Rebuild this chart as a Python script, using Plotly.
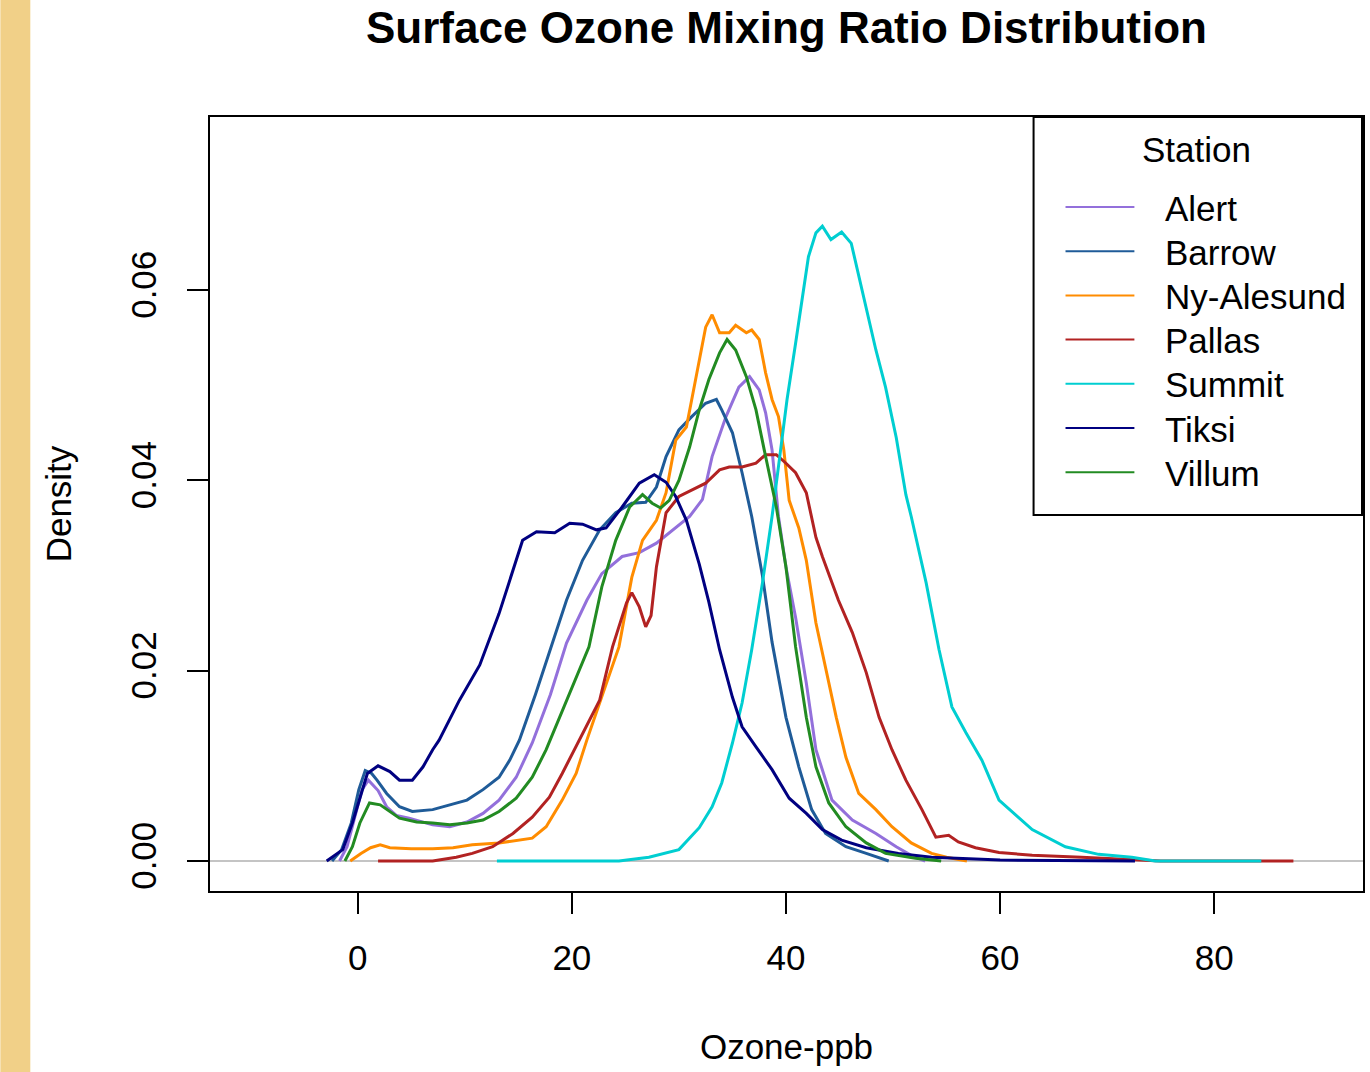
import plotly.graph_objects as go

# ---------------- data ----------------
stations = ["Alert", "Barrow", "Ny-Alesund", "Pallas", "Summit", "Tiksi", "Villum"]
colors = ["#9370DB", "#1F5B98", "#FF8C00", "#B22222", "#00CED1", "#000080", "#228B22"]

alert_x = [-1.7, -1.0, -0.3, 0.4, 1.0, 1.9, 2.7, 3.6, 4.8, 7.0,
           8.6, 10.2, 11.7, 13.2, 14.8, 16.3, 18.0, 19.5, 21.4, 22.8,
           24.7, 26.3, 27.9, 29.4, 31.0, 32.2, 33.1, 34.4, 35.6, 36.6,
           37.5, 38.1, 38.7, 39.3, 40.0, 40.9, 41.9, 42.8, 44.3, 46.2,
           48.4, 50.3, 51.7, 53.0]
alert_d = [0, 0.0015, 0.0045, 0.0075, 0.0085, 0.0074, 0.0057, 0.0048, 0.0045, 0.0038,
           0.0036, 0.0041, 0.005, 0.0064, 0.0088, 0.0124, 0.0175, 0.0229, 0.0274, 0.0302,
           0.032, 0.0324, 0.0334, 0.0348, 0.0362, 0.038, 0.0425, 0.0467, 0.0498, 0.0509,
           0.0495, 0.0471, 0.0432, 0.0362, 0.0309, 0.0256, 0.0187, 0.0117, 0.0064, 0.0043,
           0.0029, 0.0015, 0.0006, 0]

barrow_x = [-2.4, -1.5, -0.6, 0.1, 0.7, 1.3, 1.8, 2.7, 3.9, 5.1,
            7.0, 8.6, 10.2, 11.7, 13.2, 14.2, 15.1, 16.6, 18.1, 19.5,
            21.0, 22.6, 24.1, 25.6, 26.9, 27.9, 28.8, 30.0, 31.2, 32.5,
            33.5, 34.0, 35.0, 35.9, 36.8, 37.8, 38.7, 40.0, 41.2, 42.4,
            43.7, 45.6, 47.5, 49.6]
barrow_d = [0, 0.0012, 0.004, 0.0075, 0.0095, 0.0092, 0.0085, 0.0071, 0.0057, 0.0052,
            0.0054, 0.0059, 0.0064, 0.0075, 0.0088, 0.0106, 0.0127, 0.0175, 0.0225, 0.0274,
            0.0316, 0.0348, 0.0366, 0.0376, 0.0377, 0.0393, 0.0425, 0.0453, 0.0467, 0.0481,
            0.0485, 0.0474, 0.045, 0.0408, 0.0362, 0.030, 0.023, 0.0151, 0.0099, 0.0054,
            0.0029, 0.0015, 0.0008, 0]

nyalesund_x = [-0.7, 0.3, 1.2, 2.1, 3.0, 5.0, 7.0, 8.9, 10.7, 13.2,
               16.3, 17.6, 19.1, 20.4, 21.4, 22.9, 24.4, 25.6, 26.6, 27.9,
               28.8, 29.7, 30.7, 31.2, 31.9, 32.5, 33.1, 33.8, 34.7, 35.3,
               36.3, 36.8, 37.5, 38.1, 38.7, 39.3, 39.8, 40.3, 41.2, 41.9,
               42.8, 43.7, 44.7, 45.6, 46.8, 48.4, 49.9, 51.7, 53.6, 55.0,
               56.9]
nyalesund_d = [0, 0.0008, 0.0014, 0.0017, 0.0014, 0.0013, 0.0013, 0.0014, 0.0017, 0.0019,
               0.0024, 0.0036, 0.0064, 0.0092, 0.0127, 0.0175, 0.0225, 0.0298, 0.0337, 0.0358,
               0.0387, 0.0442, 0.0456, 0.0485, 0.0527, 0.0561, 0.0574, 0.0555, 0.0555, 0.0563,
               0.0555, 0.0558, 0.0548, 0.0513, 0.0485, 0.0467, 0.0432, 0.0379, 0.035, 0.0316,
               0.025, 0.0204, 0.0151, 0.0109, 0.0071, 0.0054, 0.0036, 0.0019, 0.0008, 0.0004,
               0]

pallas_x = [1.9, 7.0, 9.2, 10.7, 12.6, 14.5, 16.3, 17.9, 19.1, 20.4,
            22.6, 23.8, 25.1, 25.6, 26.3, 26.9, 27.4, 27.9, 28.8, 30.0,
            31.2, 32.5, 33.8, 34.7, 35.9, 37.2, 38.1, 39.1, 40.0, 40.9,
            41.9, 42.8, 43.4, 44.9, 46.2, 47.5, 48.7, 49.9, 51.2, 52.7,
            54.0, 55.2, 56.1, 57.7, 59.9, 63.0, 67.6, 72.3, 75.0, 84.4,
            87.4]
pallas_d = [0, 0, 0.0004, 0.0008, 0.0015, 0.0029, 0.0046, 0.0067, 0.0092, 0.012,
            0.0169, 0.0225, 0.0271, 0.0282, 0.0267, 0.0246, 0.0258, 0.0309, 0.0366, 0.0383,
            0.039, 0.0397, 0.0411, 0.0414, 0.0414, 0.0418, 0.0427, 0.0427, 0.0418, 0.0408,
            0.0387, 0.034, 0.032, 0.0274, 0.024, 0.0198, 0.0151, 0.0117, 0.0085, 0.0054,
            0.0025, 0.0027, 0.002, 0.0014, 0.0009, 0.0006, 0.0004, 0.0001, 0, 0,
            0]

summit_x = [13.0, 24.4, 27.2, 30.0, 31.9, 33.1, 34.0, 35.0, 35.9, 36.8,
            37.8, 38.7, 39.5, 40.1, 40.9, 41.5, 42.1, 42.8, 43.4, 44.2,
            45.2, 46.1, 46.8, 47.5, 48.4, 49.3, 50.3, 51.2, 51.7, 53.1,
            54.3, 55.5, 56.8, 58.3, 59.9, 63.0, 66.1, 69.2, 72.3, 74.5,
            84.4]
summit_d = [0, 0, 0.0004, 0.0012, 0.0035, 0.0057, 0.0082, 0.0124, 0.0166, 0.0222,
            0.0292, 0.0362, 0.0432, 0.0485, 0.0544, 0.059, 0.0635, 0.066, 0.0667, 0.0653,
            0.0661, 0.0649, 0.0614, 0.0579, 0.0537, 0.0498, 0.0445, 0.0385, 0.0362, 0.0292,
            0.0222, 0.0162, 0.0135, 0.0106, 0.0064, 0.0033, 0.0015, 0.0007, 0.0004, 0,
            0]

tiksi_x = [-2.9, -1.4, -0.5, 0.4, 0.9, 1.9, 3.0, 3.9, 5.1, 6.1,
           7.0, 7.6, 9.5, 11.4, 13.2, 15.4, 16.7, 18.4, 19.8, 21.0,
           22.3, 23.2, 24.7, 26.3, 27.7, 28.8, 29.7, 30.7, 31.9, 32.8,
           33.8, 35.0, 35.9, 37.2, 38.7, 40.3, 41.9, 43.4, 45.2, 47.5,
           50.5, 53.6, 60.0, 72.6]
tiksi_d = [0, 0.0012, 0.004, 0.0075, 0.0092, 0.0100, 0.0094, 0.0085, 0.0085, 0.0099,
           0.0117, 0.0127, 0.0169, 0.0206, 0.026, 0.0337, 0.0346, 0.0345, 0.0355, 0.0354,
           0.0348, 0.035, 0.0372, 0.0397, 0.0406, 0.0398, 0.0383, 0.0358, 0.0312, 0.0272,
           0.0222, 0.0172, 0.0141, 0.012, 0.0096, 0.0066, 0.005, 0.0033, 0.0022, 0.0014,
           0.0008, 0.0004, 0.0001, 0]

villum_x = [-1.2, -0.5, 0.2, 1.1, 2.1, 3.0, 3.9, 5.5, 7.0, 8.6,
            10.2, 11.7, 13.2, 14.8, 16.3, 17.6, 19.6, 21.6, 22.8, 24.1,
            25.4, 26.6, 27.5, 28.3, 29.1, 30.0, 31.0, 31.9, 32.8, 33.8,
            34.5, 35.3, 36.3, 37.2, 38.1, 39.1, 40.0, 40.9, 41.9, 42.8,
            44.0, 45.6, 47.5, 49.3, 52.1, 54.5]
villum_d = [0, 0.0015, 0.004, 0.0061, 0.0059, 0.0052, 0.0045, 0.0041, 0.004, 0.0038,
            0.004, 0.0043, 0.0052, 0.0066, 0.0088, 0.0117, 0.017, 0.0225, 0.0288, 0.0337,
            0.0372, 0.0385, 0.0376, 0.0371, 0.0379, 0.04, 0.0435, 0.0474, 0.0506, 0.0534,
            0.0548, 0.0537, 0.0509, 0.0474, 0.0425, 0.0372, 0.0309, 0.0225, 0.0151, 0.0099,
            0.0061, 0.0036, 0.0019, 0.0008, 0.0003, 0]

x_ticks = [0, 20, 40, 60, 80]
y_ticks = [0.0, 0.02, 0.04, 0.06]
y_tick_labels = ["0.00", "0.02", "0.04", "0.06"]

series_x = [alert_x, barrow_x, nyalesund_x, pallas_x, summit_x, tiksi_x, villum_x]
series_d = [alert_d, barrow_d, nyalesund_d, pallas_d, summit_d, tiksi_d, villum_d]

# ---------------- layout helpers ----------------
W, H = 1370, 1072
L, R, T, B = 210, 1365, 117, 891
FONT = "Liberation Sans, Arial, Helvetica, sans-serif"


def px_x(p):
    return (p - L) / (R - L)


def px_y(p):
    return (B - p) / (B - T)


fig = go.Figure()
for name, col, xs, ds in zip(stations, colors, series_x, series_d):
    fig.add_trace(go.Scatter(x=xs, y=ds, mode="lines", name=name,
                             line=dict(color=col, width=3),
                             showlegend=False))

shapes = [
    # tan strip on the left edge of the page
    dict(type="rect", xref="paper", yref="paper",
         x0=px_x(0), x1=px_x(30), y0=px_y(H), y1=px_y(0),
         fillcolor="#F1D088", line=dict(width=0), layer="below"),
    # gray zero line
    dict(type="line", xref="paper", yref="y", x0=0, x1=1, y0=0, y1=0,
         line=dict(color="#C4C4C4", width=2), layer="below"),
    # legend box
    dict(type="rect", xref="paper", yref="paper",
         x0=px_x(1035), x1=px_x(1364), y0=px_y(515), y1=px_y(117),
         line=dict(color="black", width=2), fillcolor="white", layer="above"),
]

annotations = [
    dict(text="Station", xref="paper", yref="paper", x=px_x(1198), y=px_y(150),
         xanchor="center", yanchor="middle", showarrow=False,
         font=dict(family=FONT, size=35, color="black")),
]

row_y0, row_dy = 207, 44.2
for i, (name, col) in enumerate(zip(stations, colors)):
    yy = row_y0 + i * row_dy
    shapes.append(dict(type="line", xref="paper", yref="paper",
                       x0=px_x(1067), x1=px_x(1136), y0=px_y(yy), y1=px_y(yy),
                       line=dict(color=col, width=2), layer="above"))
    annotations.append(dict(text=name, xref="paper", yref="paper",
                            x=px_x(1165), y=px_y(yy + 1), xanchor="left", yanchor="middle",
                            showarrow=False,
                            font=dict(family=FONT, size=35, color="black")))

fig.update_layout(
    width=W, height=H, autosize=False,
    margin=dict(l=L, r=W - R, t=T, b=H - B, pad=0),
    paper_bgcolor="white", plot_bgcolor="white",
    font=dict(family=FONT, size=35, color="black"),
    title=dict(text="<b>Surface Ozone Mixing Ratio Distribution</b>",
               font=dict(family=FONT, size=44, color="black"),
               x=0.5, xref="paper", xanchor="center",
               y=1 - 28 / H, yref="container", yanchor="middle"),
    xaxis=dict(range=[-13.8, 93.9], tickmode="array", tickvals=x_ticks,
               ticks="outside", ticklen=21, tickwidth=2, tickcolor="black",
               ticklabelstandoff=14,
               showline=True, linecolor="black", linewidth=2, mirror=True,
               showgrid=False, zeroline=False,
               tickfont=dict(family=FONT, size=35, color="black"),
               title=dict(text="Ozone-ppb", standoff=58,
                          font=dict(family=FONT, size=35, color="black"))),
    yaxis=dict(range=[-0.00315, 0.07818], tickmode="array", tickvals=y_ticks,
               ticktext=y_tick_labels, tickangle=-90,
               ticks="outside", ticklen=21, tickwidth=2, tickcolor="black",
               ticklabelstandoff=17,
               showline=True, linecolor="black", linewidth=2, mirror=True,
               showgrid=False, zeroline=False,
               tickfont=dict(family=FONT, size=35, color="black"),
               title=dict(text="Density", standoff=42,
                          font=dict(family=FONT, size=35, color="black"))),
    shapes=shapes,
    annotations=annotations,
)

fig.write_html("out.html",
               config={"displayModeBar": False},
               post_script="document.body.style.margin='0';"
                           "document.body.style.overflow='hidden';")
